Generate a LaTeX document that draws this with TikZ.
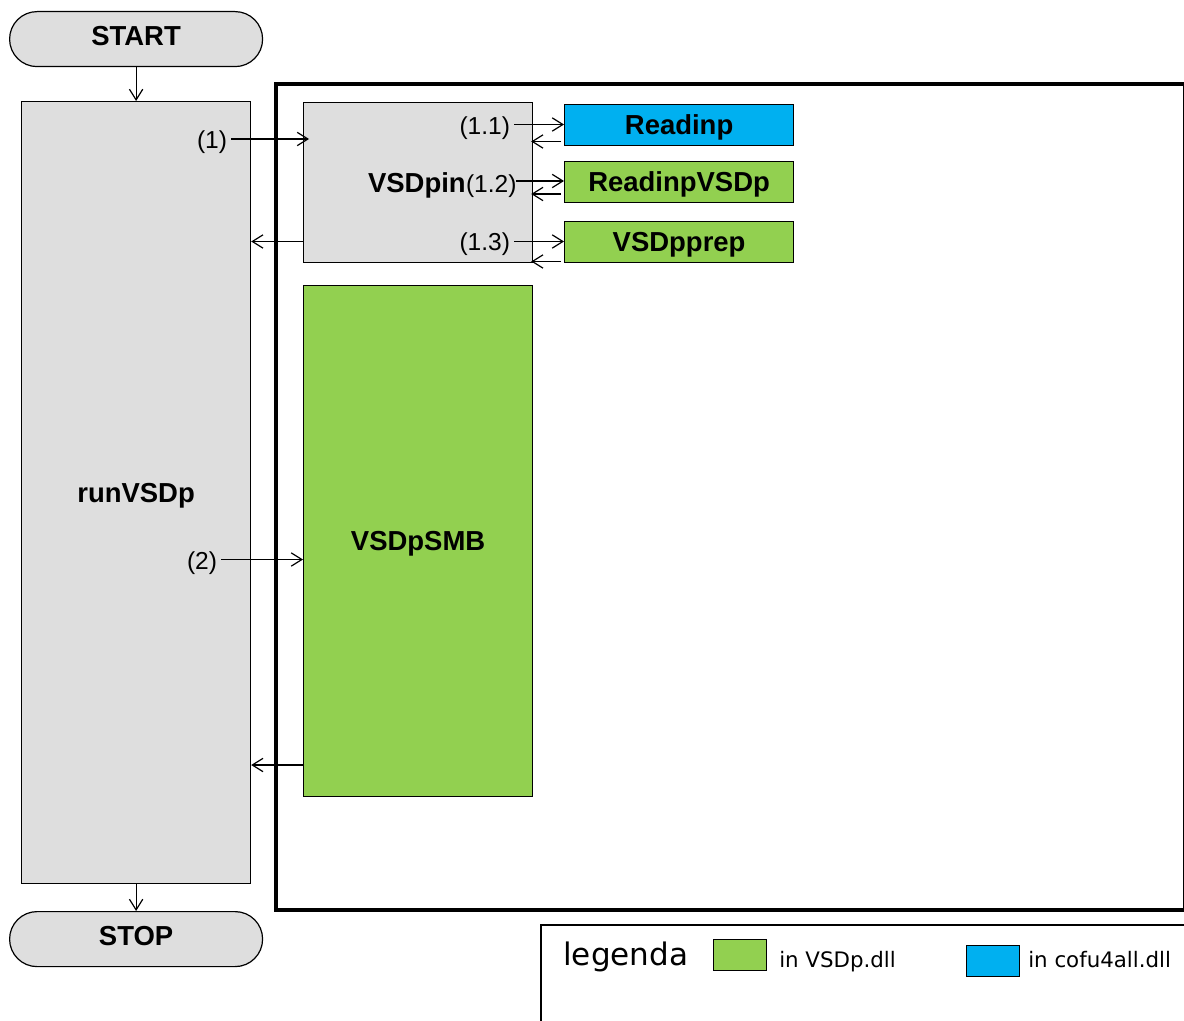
\documentclass[tikz,border=0pt]{standalone}
\usepackage{fontspec}
\setmainfont{Liberation Sans}
\newfontfamily\dejavu{DejaVu Sans}
\usetikzlibrary{arrows.meta,calc}
\definecolor{boxgray}{HTML}{DEDEDE}
\definecolor{dllgreen}{HTML}{92D050}
\definecolor{dllblue}{HTML}{00B0F0}
\begin{document}
\begin{tikzpicture}[x=0.75pt,y=-0.75pt,
  every node/.style={inner sep=0pt},
  blk/.style={draw, line width=0.9pt, anchor=north west},
  ttl/.style={font=\fontsize{20.6}{24}\selectfont\bfseries},
  ctr/.style={ttl, text height=14.75pt, text depth=0pt},
  num/.style={font=\fontsize{18.4}{22}\selectfont, outer xsep=3pt},
  term/.style={blk, fill=boxgray, rounded corners=20.6pt, minimum width=189.75pt, minimum height=41.25pt, ttl, text height=14.75pt, text depth=4.5pt},
  wide/.style={blk, minimum width=171.75pt},
  arr/.style={line width=0.9pt, -{Straight Barb[length=8pt,width=10pt,line width=0.9pt]}},
  legtxt/.style={font=\dejavu\fontsize{16}{19}\selectfont, anchor=base west},
  legsq/.style={draw, line width=0.9pt, anchor=north west, minimum width=39.75pt, minimum height=23.25pt},
]
\useasboundingbox (0,0) rectangle (1184,1020);

% frame and legend box
\draw[line width=3pt] (276,84.5) rectangle (1184.5,910);
\draw[line width=0.9pt] (541,925) rectangle (1250,1100);

% main blocks
\node[term] (start) at (9,11) {START};
\node[wide, fill=boxgray, minimum height=586.5pt, ctr] (run) at (21,101) {runVSDp};
\node[term] (stop) at (9,911) {STOP};
\node[wide, fill=boxgray, minimum height=120pt] (pin) at (303,102) {};
\node[wide, fill=dllblue, minimum height=30.75pt, ctr] (readinp) at (564,104) {Readinp};
\node[wide, fill=dllgreen, minimum height=30.75pt, ctr] (rvsdp) at (564,161) {ReadinpVSDp};
\node[wide, fill=dllgreen, minimum height=30.75pt, ctr] (prep) at (564,221) {VSDpprep};
\node[wide, fill=dllgreen, minimum height=383.25pt, ctr] (smb) at (303,285) {VSDpSMB};

% labels
\node[ttl, anchor=base east] (pinlbl) at (466,192) {VSDpin};
\node[num, outer xsep=0pt, anchor=base west] (l12) at (466,192) {(1.2)};
\node[num, anchor=base east] (l1) at (231,148) {(1)};
\node[num, anchor=base east] (l11) at (514,135) {(1.1)};
\node[num, anchor=base east] (l13) at (514,250) {(1.3)};
\node[num, anchor=base east] (l2) at (221,569) {(2)};

% row coordinates
\coordinate (r1) at (0,139);
\coordinate (r1b) at (0,241.5);
\coordinate (r11) at (0,124.5);
\coordinate (r11b) at (0,141.5);
\coordinate (r12) at (0,181);
\coordinate (r12b) at (0,194);
\coordinate (r13) at (0,241.5);
\coordinate (r13b) at (0,261.5);
\coordinate (r2) at (0,559.5);
\coordinate (r2b) at (0,765);

% connectors
\draw[arr] (start) -- (run);
\draw[arr] (run) -- (stop);
\draw[arr, shorten >=-4.5pt] (l1.east |- r1) -- (pin.west |- r1);
\draw[arr] (pin.west |- r1b) -- (run.east |- r1b);
\draw[arr] (l11.east |- r11) -- (readinp.west |- r11);
\draw[arr, shorten <=2.25pt, shorten >=-1.5pt] (readinp.west |- r11b) -- (pin.east |- r11b);
\draw[arr] (l12.east |- r12) -- (rvsdp.west |- r12);
\draw[arr, shorten <=2.25pt, shorten >=-1.5pt] (rvsdp.west |- r12b) -- (pin.east |- r12b);
\draw[arr] (l13.east |- r13) -- (prep.west |- r13);
\draw[arr, shorten <=2.25pt, shorten >=-1.5pt] (prep.west |- r13b) -- (pin.east |- r13b);
\draw[arr] (l2.east |- r2) -- (smb.west |- r2);
\draw[arr] (smb.west |- r2b) -- (run.east |- r2b);

% legend
\node[font=\dejavu\fontsize{23.3}{28}\selectfont, anchor=base west] (leg) at (563,965) {legenda};
\node[legsq, fill=dllgreen] (lgg) at (713,939) {};
\node[legtxt] (lggt) at (779,967) {in VSDp.dll};
\node[legsq, fill=dllblue] (lgb) at (966,945) {};
\node[legtxt] (lgbt) at (1028,967) {in cofu4all.dll};
\end{tikzpicture}
\end{document}
